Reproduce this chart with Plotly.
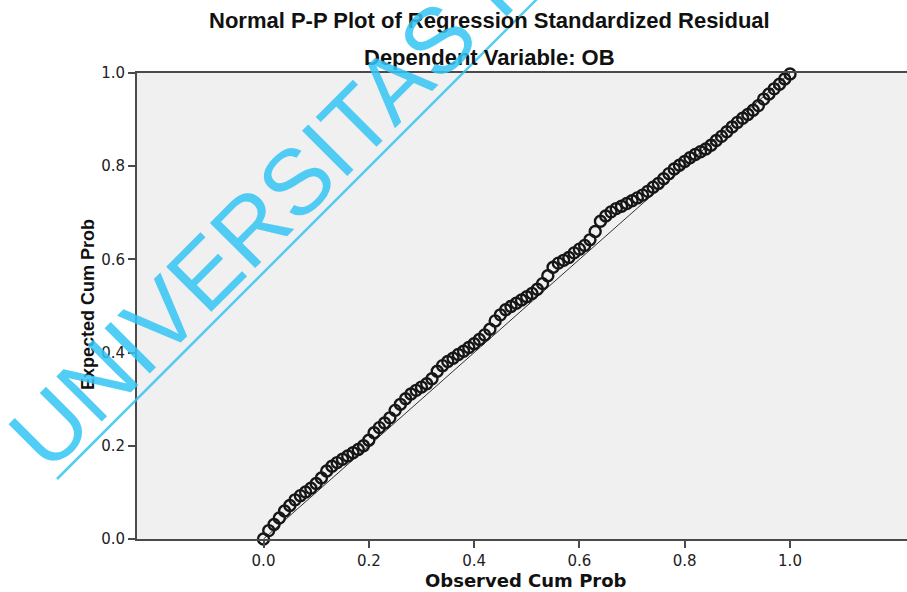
import plotly.graph_objects as go

# ---- data ----
observed = [0.00, 0.01, 0.02, 0.03, 0.04, 0.05, 0.06, 0.07, 0.08, 0.09,
            0.10, 0.11, 0.12, 0.13, 0.14, 0.15, 0.16, 0.17, 0.18, 0.19,
            0.20, 0.21, 0.22, 0.23, 0.24, 0.25, 0.26, 0.27, 0.28, 0.29,
            0.30, 0.31, 0.32, 0.33, 0.34, 0.35, 0.36, 0.37, 0.38, 0.39,
            0.40, 0.41, 0.42, 0.43, 0.44, 0.45, 0.46, 0.47, 0.48, 0.49,
            0.50, 0.51, 0.52, 0.53, 0.54, 0.55, 0.56, 0.57, 0.58, 0.59,
            0.60, 0.61, 0.62, 0.63, 0.64, 0.65, 0.66, 0.67, 0.68, 0.69,
            0.70, 0.71, 0.72, 0.73, 0.74, 0.75, 0.76, 0.77, 0.78, 0.79,
            0.80, 0.81, 0.82, 0.83, 0.84, 0.85, 0.86, 0.87, 0.88, 0.89,
            0.90, 0.91, 0.92, 0.93, 0.94, 0.95, 0.96, 0.97, 0.98, 0.99, 1.00]
expected = [0.000, 0.018, 0.031, 0.045, 0.060, 0.072, 0.084, 0.093, 0.101, 0.109,
            0.119, 0.131, 0.146, 0.156, 0.164, 0.171, 0.178, 0.185, 0.192, 0.200,
            0.212, 0.228, 0.239, 0.249, 0.260, 0.276, 0.289, 0.301, 0.311, 0.319,
            0.326, 0.333, 0.344, 0.360, 0.372, 0.381, 0.388, 0.396, 0.403, 0.411,
            0.419, 0.428, 0.438, 0.450, 0.468, 0.481, 0.492, 0.499, 0.506, 0.513,
            0.520, 0.527, 0.536, 0.548, 0.565, 0.583, 0.592, 0.598, 0.604, 0.614,
            0.622, 0.630, 0.642, 0.660, 0.682, 0.693, 0.702, 0.709, 0.714, 0.720,
            0.726, 0.732, 0.738, 0.746, 0.755, 0.763, 0.773, 0.784, 0.794, 0.802,
            0.810, 0.818, 0.825, 0.831, 0.837, 0.845, 0.855, 0.864, 0.874, 0.884,
            0.894, 0.903, 0.911, 0.920, 0.930, 0.944, 0.955, 0.966, 0.976, 0.987, 0.998]
ref_x = [0.0, 1.0]
ref_y = [0.0, 1.0]
tick_vals = [0.0, 0.2, 0.4, 0.6, 0.8, 1.0]
tick_text = ["0.0", "0.2", "0.4", "0.6", "0.8", "1.0"]

title_text = "Normal P-P Plot of Regression Standardized Residual"
subtitle_text = "Dependent Variable: OB"
x_title = "Observed Cum Prob"
y_title = "Expected Cum Prob"
watermark = "UNIVERSITAS I"

# ---- layout geometry (pixels) ----
W_FIG, H_FIG = 907, 592
L, R, T, B = 137, 907, 73, 539
PW, PH = R - L, B - T

def px(x):
    return (x - L) / PW

def py(y):
    return (B - y) / PH

x0_px = 263.5
unit_px = 526.5
x_min = (L - x0_px) / unit_px
x_max = (R - x0_px) / unit_px

axis_col = "#4a4a4a"
wm_col = "rgba(50,196,245,0.85)"

fig = go.Figure()
fig.add_trace(go.Scatter(x=ref_x, y=ref_y, mode="lines",
                         line=dict(color="#333333", width=1),
                         hoverinfo="skip", showlegend=False))
fig.add_trace(go.Scatter(x=observed, y=expected, mode="markers",
                         marker=dict(symbol="circle-open", size=11,
                                     color="#161616", line=dict(width=2.4)),
                         cliponaxis=False, showlegend=False))

fig.update_layout(
    width=W_FIG, height=H_FIG,
    margin=dict(l=L, r=W_FIG - R, t=T, b=H_FIG - B, pad=0),
    paper_bgcolor="white", plot_bgcolor="#f0f0f0",
    showlegend=False,
    font=dict(family="DejaVu Sans", color="#222222"),
)
fig.update_xaxes(range=[x_min, x_max], tickvals=tick_vals, ticktext=tick_text,
                 showgrid=False, zeroline=False,
                 showline=True, linecolor=axis_col, linewidth=2, mirror=True,
                 ticks="outside", ticklen=7, tickwidth=1.5, tickcolor=axis_col,
                 tickfont=dict(family="DejaVu Sans", size=15, color="#222222"))
fig.update_yaxes(range=[0, 1], tickvals=tick_vals, ticktext=tick_text,
                 showgrid=False, zeroline=False,
                 showline=True, linecolor=axis_col, linewidth=2, mirror=False,
                 ticks="outside", ticklen=7, tickwidth=1.5, tickcolor=axis_col,
                 tickfont=dict(family="DejaVu Sans", size=15, color="#222222"))

annots = [
    dict(text="<b>" + title_text + "</b>", x=px(489), y=py(20), yanchor="middle",
         font=dict(family="Liberation Sans", size=22, color="#111111")),
    dict(text="<b>" + subtitle_text + "</b>", x=px(489), y=py(58), yanchor="middle",
         font=dict(family="Liberation Sans", size=22, color="#111111")),
    dict(text="<b>" + x_title + "</b>", x=px(526), y=py(592), yanchor="bottom",
         borderpad=0,
         font=dict(family="DejaVu Sans", size=18, color="#111111")),
    dict(text="<b>" + y_title + "</b>", x=px(88), y=py(305), textangle=-90,
         yanchor="middle",
         font=dict(family="Liberation Sans", size=18, color="#111111")),
    dict(text=watermark, x=px(261), y=py(217), textangle=-45, yanchor="middle",
         font=dict(family="Liberation Sans", size=93, color=wm_col)),
]
for a in annots:
    fig.add_annotation(xref="paper", yref="paper", showarrow=False,
                       xanchor="center", **a)

fig.add_shape(type="line", xref="paper", yref="paper",
              x0=px(57), y0=py(479), x1=px(541), y1=py(-5),
              line=dict(color=wm_col, width=2.5), layer="above")

fig.write_html("out.html")
